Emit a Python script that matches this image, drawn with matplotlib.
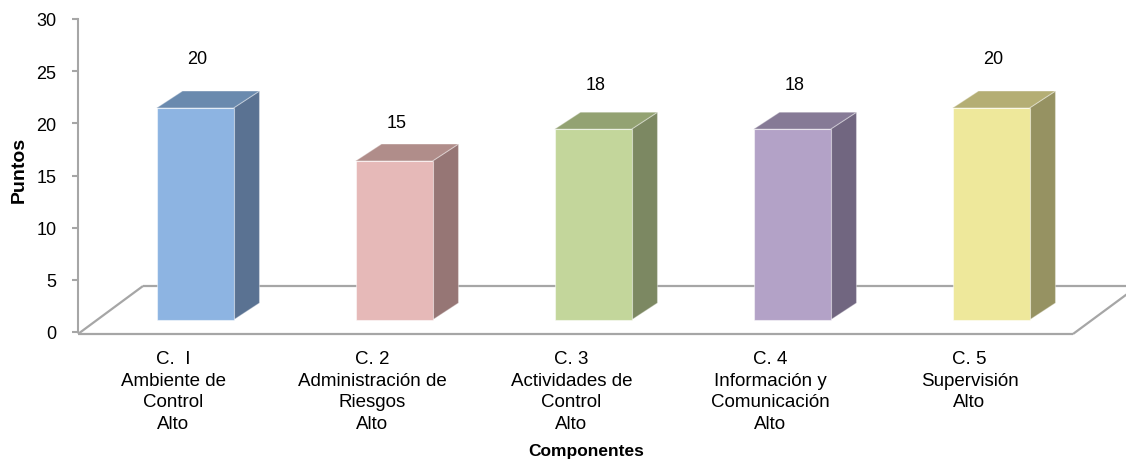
import matplotlib
matplotlib.use("Agg")
import matplotlib.pyplot as plt
from matplotlib.patches import Polygon

# ---- data ----
categories = [
    "C.  I\nAmbiente de\nControl\nAlto",
    "C. 2\nAdministración de\nRiesgos\nAlto",
    "C. 3\nActividades de\nControl\nAlto",
    "C. 4\nInformación y\nComunicación\nAlto",
    "C. 5\nSupervisión\nAlto",
]
values = [20, 15, 18, 18, 20]
y_ticks = [0, 5, 10, 15, 20, 25, 30]
front_colors = ["#8DB4E2", "#E6B9B8", "#C3D69B", "#B3A2C7", "#EEE89B"]
side_colors = ["#5A7292", "#967675", "#7C8862", "#716680", "#969262"]
top_colors = ["#6A8AAE", "#B08D8A", "#93A272", "#867A96", "#B4AE74"]
x_title = "Componentes"
y_title = "Puntos"

plt.rcParams['font.family'] = ['Liberation Sans', 'DejaVu Sans']

W, H = 1126, 464
fig = plt.figure(figsize=(W / 100, H / 100), dpi=100)
ax = fig.add_axes([78 / W, (H - 333) / H, (W - 78) / W, 313 / H])
ax.set_ylim(0, 30)
px_per_x = 199.0
ax.set_xlim(-0.5, -0.5 + (W - 78) / px_per_x)
px_per_y = 313 / 30.0

gray = "#A6A6A6"
for s in ["top", "right", "bottom"]:
    ax.spines[s].set_visible(False)
ax.spines["left"].set_color(gray)
ax.spines["left"].set_linewidth(1.5)

ax.set_yticks(y_ticks)
ax.set_yticklabels([str(t) for t in y_ticks])
ax.tick_params(axis="y", direction="out", length=4.5, width=1.5, color=gray,
               labelsize=13, pad=11)

n = len(values)
cat_x = [i - 0.02 for i in range(n)]
ax.set_xticks(cat_x)
ax.set_xticklabels(categories, fontsize=13.5, linespacing=1.36)
ax.tick_params(axis="x", length=0, pad=13)

# floor
fy_front = -2 / px_per_y
fy_back = 46 / px_per_y
fdx = 65 / px_per_x
fx0, fx1 = -0.5, n - 0.5
floor_kw = dict(color=gray, lw=1.6, clip_on=False, zorder=1, solid_capstyle="butt")
ax.plot([fx0, fx1], [fy_front, fy_front], **floor_kw)
ax.plot([fx0 + fdx, fx1 + fdx], [fy_back, fy_back], **floor_kw)
ax.plot([fx0, fx0 + fdx], [fy_front, fy_back], **floor_kw)
ax.plot([fx1, fx1 + fdx], [fy_front, fy_back], **floor_kw)

# bars
bar_off = 17.5 / px_per_x
bw = 77 / px_per_x
yb = 12 / px_per_y
hscale = 10.6 / px_per_y
ddx = 26 / px_per_x
ddy = 17 / px_per_y
lab_base = 17 / px_per_y
lab_scale = 12.8 / px_per_y
for i, v in enumerate(values):
    xc = i + bar_off
    x0, x1 = xc - bw / 2, xc + bw / 2
    yt = yb + v * hscale
    side = Polygon([(x1, yb), (x1 + ddx, yb + ddy), (x1 + ddx, yt + ddy), (x1, yt)],
                   closed=True, facecolor=side_colors[i], edgecolor=(1, 1, 1, 0.35),
                   lw=0.8, zorder=3, clip_on=False)
    top = Polygon([(x0, yt), (x1, yt), (x1 + ddx, yt + ddy), (x0 + ddx, yt + ddy)],
                  closed=True, facecolor=top_colors[i], edgecolor=(1, 1, 1, 0.35),
                  lw=0.8, zorder=3, clip_on=False)
    front = Polygon([(x0, yb), (x1, yb), (x1, yt), (x0, yt)], closed=True,
                    facecolor=front_colors[i], edgecolor=(1, 1, 1, 0.5),
                    lw=0.8, zorder=4, clip_on=False)
    for p in (side, top, front):
        ax.add_patch(p)
    ax.text(i + 0.1, lab_base + v * lab_scale, f"{v:g}", ha="center", va="center",
            fontsize=13, zorder=5)

fig.text(586 / W, 1 - 452 / H, x_title, ha="center", va="center",
         fontsize=12.5, fontweight="bold")
fig.text(19 / W, 1 - 170 / H, y_title, ha="center", va="center", rotation=90,
         fontsize=14, fontweight="bold")

fig.savefig("out.png", dpi=100)
